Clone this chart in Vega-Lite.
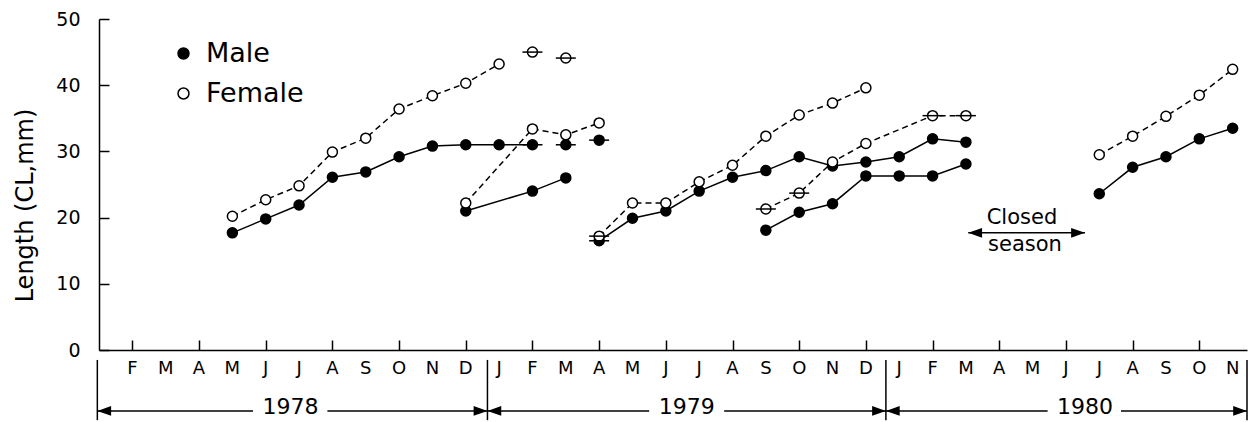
{
  "$schema": "https://vega.github.io/schema/vega-lite/v6.json",
  "width": 1148,
  "height": 331,
  "autosize": {"type": "none"},
  "padding": {"left": 99, "top": 19, "right": 5, "bottom": 72},
  "background": "white",
  "config": {"view": {"stroke": null}, "font": "DejaVu Sans"},
  "datasets": {
    "obs": [
      {"m": 4, "len": 17.7, "sex": "Male", "g": "M1"},
      {"m": 5, "len": 19.8, "sex": "Male", "g": "M1"},
      {"m": 6, "len": 21.9, "sex": "Male", "g": "M1"},
      {"m": 7, "len": 26.1, "sex": "Male", "g": "M1"},
      {"m": 8, "len": 26.9, "sex": "Male", "g": "M1"},
      {"m": 9, "len": 29.2, "sex": "Male", "g": "M1"},
      {"m": 10, "len": 30.8, "sex": "Male", "g": "M1"},
      {"m": 11, "len": 31.0, "sex": "Male", "g": "M1"},
      {"m": 12, "len": 31.0, "sex": "Male", "g": "M1"},
      {"m": 13, "len": 31.0, "sex": "Male", "g": "M1", "bar": true},
      {"m": 14, "len": 31.0, "sex": "Male", "g": "M1", "bar": true, "ln": false},
      {"m": 15, "len": 31.7, "sex": "Male", "g": "M1", "bar": true, "ln": false},
      {"m": 11, "len": 21.0, "sex": "Male", "g": "M2"},
      {"m": 13, "len": 24.0, "sex": "Male", "g": "M2"},
      {"m": 14, "len": 26.0, "sex": "Male", "g": "M2"},
      {"m": 15, "len": 16.5, "sex": "Male", "g": "M3", "bar": true},
      {"m": 16, "len": 19.9, "sex": "Male", "g": "M3"},
      {"m": 17, "len": 21.0, "sex": "Male", "g": "M3"},
      {"m": 18, "len": 24.0, "sex": "Male", "g": "M3"},
      {"m": 19, "len": 26.1, "sex": "Male", "g": "M3"},
      {"m": 20, "len": 27.1, "sex": "Male", "g": "M3"},
      {"m": 21, "len": 29.2, "sex": "Male", "g": "M3"},
      {"m": 22, "len": 27.8, "sex": "Male", "g": "M3"},
      {"m": 23, "len": 28.4, "sex": "Male", "g": "M3"},
      {"m": 24, "len": 29.2, "sex": "Male", "g": "M3"},
      {"m": 25, "len": 31.9, "sex": "Male", "g": "M3"},
      {"m": 26, "len": 31.4, "sex": "Male", "g": "M3"},
      {"m": 20, "len": 18.1, "sex": "Male", "g": "M4"},
      {"m": 21, "len": 20.8, "sex": "Male", "g": "M4"},
      {"m": 22, "len": 22.1, "sex": "Male", "g": "M4"},
      {"m": 23, "len": 26.3, "sex": "Male", "g": "M4"},
      {"m": 24, "len": 26.3, "sex": "Male", "g": "M4"},
      {"m": 25, "len": 26.3, "sex": "Male", "g": "M4"},
      {"m": 26, "len": 28.1, "sex": "Male", "g": "M4"},
      {"m": 30, "len": 23.6, "sex": "Male", "g": "M5"},
      {"m": 31, "len": 27.6, "sex": "Male", "g": "M5"},
      {"m": 32, "len": 29.2, "sex": "Male", "g": "M5"},
      {"m": 33, "len": 31.9, "sex": "Male", "g": "M5"},
      {"m": 34, "len": 33.5, "sex": "Male", "g": "M5"},
      {"m": 4, "len": 20.2, "sex": "Female", "g": "F1"},
      {"m": 5, "len": 22.7, "sex": "Female", "g": "F1"},
      {"m": 6, "len": 24.8, "sex": "Female", "g": "F1"},
      {"m": 7, "len": 29.9, "sex": "Female", "g": "F1"},
      {"m": 8, "len": 32.0, "sex": "Female", "g": "F1"},
      {"m": 9, "len": 36.4, "sex": "Female", "g": "F1"},
      {"m": 10, "len": 38.4, "sex": "Female", "g": "F1"},
      {"m": 11, "len": 40.3, "sex": "Female", "g": "F1"},
      {"m": 12, "len": 43.2, "sex": "Female", "g": "F1"},
      {"m": 13, "len": 45.0, "sex": "Female", "g": "F1", "bar": true, "ln": false},
      {"m": 14, "len": 44.1, "sex": "Female", "g": "F1", "bar": true, "ln": false},
      {"m": 11, "len": 22.2, "sex": "Female", "g": "F2"},
      {"m": 13, "len": 33.4, "sex": "Female", "g": "F2"},
      {"m": 14, "len": 32.5, "sex": "Female", "g": "F2"},
      {"m": 15, "len": 34.3, "sex": "Female", "g": "F2"},
      {"m": 15, "len": 17.2, "sex": "Female", "g": "F3", "bar": true},
      {"m": 16, "len": 22.2, "sex": "Female", "g": "F3"},
      {"m": 17, "len": 22.2, "sex": "Female", "g": "F3"},
      {"m": 18, "len": 25.4, "sex": "Female", "g": "F3"},
      {"m": 19, "len": 27.9, "sex": "Female", "g": "F3"},
      {"m": 20, "len": 32.3, "sex": "Female", "g": "F3"},
      {"m": 21, "len": 35.5, "sex": "Female", "g": "F3"},
      {"m": 22, "len": 37.3, "sex": "Female", "g": "F3"},
      {"m": 23, "len": 39.6, "sex": "Female", "g": "F3"},
      {"m": 20, "len": 21.3, "sex": "Female", "g": "F4", "bar": true},
      {"m": 21, "len": 23.7, "sex": "Female", "g": "F4", "bar": true},
      {"m": 22, "len": 28.4, "sex": "Female", "g": "F4"},
      {"m": 23, "len": 31.2, "sex": "Female", "g": "F4"},
      {"m": 25, "len": 35.4, "sex": "Female", "g": "F4", "bar": true},
      {"m": 26, "len": 35.4, "sex": "Female", "g": "F4", "bar": true},
      {"m": 30, "len": 29.5, "sex": "Female", "g": "F5"},
      {"m": 31, "len": 32.3, "sex": "Female", "g": "F5"},
      {"m": 32, "len": 35.3, "sex": "Female", "g": "F5"},
      {"m": 33, "len": 38.5, "sex": "Female", "g": "F5"},
      {"m": 34, "len": 42.4, "sex": "Female", "g": "F5"}
    ],
    "months": [
      {"m": 1, "lab": "F"}, {"m": 2, "lab": "M"}, {"m": 3, "lab": "A"}, {"m": 4, "lab": "M"},
      {"m": 5, "lab": "J"}, {"m": 6, "lab": "J"}, {"m": 7, "lab": "A"}, {"m": 8, "lab": "S"},
      {"m": 9, "lab": "O"}, {"m": 10, "lab": "N"}, {"m": 11, "lab": "D"}, {"m": 12, "lab": "J"},
      {"m": 13, "lab": "F"}, {"m": 14, "lab": "M"}, {"m": 15, "lab": "A"}, {"m": 16, "lab": "M"},
      {"m": 17, "lab": "J"}, {"m": 18, "lab": "J"}, {"m": 19, "lab": "A"}, {"m": 20, "lab": "S"},
      {"m": 21, "lab": "O"}, {"m": 22, "lab": "N"}, {"m": 23, "lab": "D"}, {"m": 24, "lab": "J"},
      {"m": 25, "lab": "F"}, {"m": 26, "lab": "M"}, {"m": 27, "lab": "A"}, {"m": 28, "lab": "M"},
      {"m": 29, "lab": "J"}, {"m": 30, "lab": "J"}, {"m": 31, "lab": "A"}, {"m": 32, "lab": "S"},
      {"m": 33, "lab": "O"}, {"m": 34, "lab": "N"}
    ],
    "years": [
      {"yr": "1978", "s": -0.05, "a": 4.62, "b": 6.85, "e": 11.65, "mid": 5.74},
      {"yr": "1979", "s": 11.65, "a": 16.5, "b": 18.75, "e": 23.6, "mid": 17.63},
      {"yr": "1980", "s": 23.6, "a": 28.45, "b": 30.65, "e": 34.43, "mid": 29.57}
    ],
    "seps": [{"x": -0.05}, {"x": 11.65}, {"x": 23.6}, {"x": 34.43}],
    "closed": [{"s": 26.07, "e": 29.57}],
    "notes": [
      {"t": "Closed", "m": 27.68, "len": 19.9},
      {"t": "season", "m": 27.77, "len": 15.8}
    ]
  },
  "layer": [
    {
      "data": {"name": "obs"},
      "transform": [{"filter": "datum.ln !== false && datum.sex === 'Male'"}],
      "mark": {"type": "line", "color": "black", "strokeWidth": 1.5},
      "encoding": {
        "x": {
          "field": "m", "type": "quantitative",
          "scale": {"domain": [0, 34.43], "nice": false, "zero": false},
          "axis": {
            "title": null,
            "values": [1,2,3,4,5,6,7,8,9,10,11,12,13,14,15,16,17,18,19,20,21,22,23,24,25,26,27,28,29,30,31,32,33,34],
            "labels": false,
            "grid": false,
            "domainColor": "black", "domainWidth": 1.5,
            "tickColor": "black", "tickWidth": 1.5, "tickSize": -10
          }
        },
        "y": {
          "field": "len", "type": "quantitative",
          "scale": {"domain": [0, 50], "nice": false},
          "axis": {
            "title": "Length (CL,mm)",
            "values": [0, 10, 20, 30, 40, 50],
            "grid": false,
            "domainColor": "black", "domainWidth": 1.5,
            "tickColor": "black", "tickWidth": 1.5, "tickSize": -10,
            "labelFontSize": 19, "labelColor": "black", "labelFont": "DejaVu Sans",
            "labelPadding": 29,
            "titleFontSize": 24, "titleFont": "DejaVu Sans", "titleFontWeight": "normal",
            "titleColor": "black", "titleX": -67, "titleY": 186, "titleBaseline": "alphabetic",
            "titleAngle": -90, "titleAlign": "center"
          }
        },
        "detail": {"field": "g"}
      }
    },
    {
      "data": {"name": "obs"},
      "transform": [{"filter": "datum.ln !== false && datum.sex === 'Female'"}],
      "mark": {"type": "line", "color": "black", "strokeWidth": 1.5, "strokeDash": [6, 4]},
      "encoding": {
        "x": {"field": "m", "type": "quantitative"},
        "y": {"field": "len", "type": "quantitative"},
        "detail": {"field": "g"}
      }
    },
    {
      "data": {"name": "obs"},
      "mark": {"type": "point", "shape": "circle", "filled": true, "stroke": "black", "strokeWidth": 1.5, "size": 100, "opacity": 1},
      "encoding": {
        "x": {"field": "m", "type": "quantitative"},
        "y": {"field": "len", "type": "quantitative"},
        "fill": {
          "field": "sex", "type": "nominal",
          "scale": {"domain": ["Male", "Female"], "range": ["black", "white"]},
          "legend": {
            "title": null, "orient": "none", "legendX": 71, "legendY": 21,
            "symbolType": "circle", "symbolSize": 120, "symbolStrokeColor": "black", "symbolStrokeWidth": 1.5,
            "symbolOpacity": 1,
            "labelFontSize": 27, "labelFont": "DejaVu Sans", "labelColor": "black", "labelOffset": 9,
            "rowPadding": 12
          }
        }
      }
    },
    {
      "data": {"name": "obs"},
      "transform": [{"filter": "datum.bar === true"}],
      "mark": {"type": "tick", "orient": "horizontal", "size": 20, "thickness": 1.5, "color": "black", "opacity": 1},
      "encoding": {
        "x": {"field": "m", "type": "quantitative"},
        "y": {"field": "len", "type": "quantitative"}
      }
    },
    {
      "data": {"name": "months"},
      "mark": {"type": "text", "fontSize": 18, "font": "DejaVu Sans", "color": "black", "baseline": "middle", "align": "center"},
      "encoding": {
        "x": {"field": "m", "type": "quantitative"},
        "y": {"datum": -2.85},
        "text": {"field": "lab"}
      }
    },
    {
      "data": {"name": "seps"},
      "mark": {"type": "rule", "color": "black", "strokeWidth": 1.5},
      "encoding": {
        "x": {"field": "x", "type": "quantitative"},
        "y": {"datum": -1.5},
        "y2": {"datum": -10.6}
      }
    },
    {
      "data": {"name": "years"},
      "mark": {"type": "rule", "color": "black", "strokeWidth": 1.5},
      "encoding": {
        "x": {"field": "s", "type": "quantitative"},
        "x2": {"field": "a"},
        "y": {"datum": -9.2}
      }
    },
    {
      "data": {"name": "years"},
      "mark": {"type": "rule", "color": "black", "strokeWidth": 1.5},
      "encoding": {
        "x": {"field": "b", "type": "quantitative"},
        "x2": {"field": "e"},
        "y": {"datum": -9.2}
      }
    },
    {
      "data": {"name": "years"},
      "mark": {"type": "point", "shape": "M0,0L2.3,-0.8L2.3,0.8Z", "filled": true, "color": "black", "size": 144, "opacity": 1},
      "encoding": {
        "x": {"field": "s", "type": "quantitative"},
        "y": {"datum": -9.2}
      }
    },
    {
      "data": {"name": "years"},
      "mark": {"type": "point", "shape": "M0,0L-2.3,-0.8L-2.3,0.8Z", "filled": true, "color": "black", "size": 144, "opacity": 1},
      "encoding": {
        "x": {"field": "e", "type": "quantitative"},
        "y": {"datum": -9.2}
      }
    },
    {
      "data": {"name": "years"},
      "mark": {"type": "text", "fontSize": 22, "font": "DejaVu Sans", "color": "black", "baseline": "middle", "align": "center"},
      "encoding": {
        "x": {"field": "mid", "type": "quantitative"},
        "y": {"datum": -8.6},
        "text": {"field": "yr"}
      }
    },
    {
      "data": {"name": "closed"},
      "mark": {"type": "rule", "color": "black", "strokeWidth": 1.5},
      "encoding": {
        "x": {"field": "s", "type": "quantitative"},
        "x2": {"field": "e"},
        "y": {"datum": 17.7}
      }
    },
    {
      "data": {"name": "closed"},
      "mark": {"type": "point", "shape": "M0,0L2.3,-0.8L2.3,0.8Z", "filled": true, "color": "black", "size": 144, "opacity": 1},
      "encoding": {
        "x": {"field": "s", "type": "quantitative"},
        "y": {"datum": 17.7}
      }
    },
    {
      "data": {"name": "closed"},
      "mark": {"type": "point", "shape": "M0,0L-2.3,-0.8L-2.3,0.8Z", "filled": true, "color": "black", "size": 144, "opacity": 1},
      "encoding": {
        "x": {"field": "e", "type": "quantitative"},
        "y": {"datum": 17.7}
      }
    },
    {
      "data": {"name": "notes"},
      "mark": {"type": "text", "fontSize": 21, "font": "DejaVu Sans", "color": "black", "baseline": "middle", "align": "center"},
      "encoding": {
        "x": {"field": "m", "type": "quantitative"},
        "y": {"field": "len", "type": "quantitative"},
        "text": {"field": "t"}
      }
    }
  ]
}
